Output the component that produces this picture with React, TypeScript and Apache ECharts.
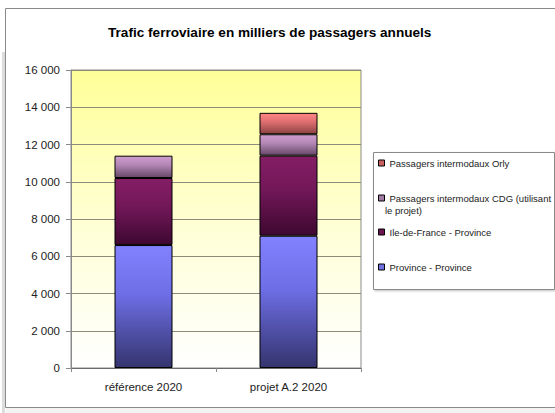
import React, { useEffect, useRef } from "react";
import * as echarts from "echarts";

const titleText = "Trafic ferroviaire en milliers de passagers annuels";
const categories = ["référence 2020", "projet A.2 2020"];
const seriesNames = [
  "Province - Province",
  "Ile-de-France - Province",
  "Passagers intermodaux CDG (utilisant le projet)",
  "Passagers intermodaux Orly",
];
const provinceProvince = [6600, 7100];
const ileDeFranceProvince = [3600, 4300];
const intermodauxCDG = [1200, 1150];
const intermodauxOrly = [null, 1150];
const yMin = 0;
const yMax = 16000;
const yInterval = 2000;

const seriesColors = [
  { top: "#8282FF", mid: "#6E6EE6", bottom: "#34346E", icon: "#7070E0" },
  { top: "#841E64", mid: "#74185A", bottom: "#3E0830", icon: "#6A1450" },
  { top: "#CE9CD0", mid: "#B488B6", bottom: "#664868", icon: "#A07AA2" },
  { top: "#FF8686", mid: "#E07070", bottom: "#8C4242", icon: "#C86060" },
];

const legendTops = [158, 193, 227, 262];
const legendOrder = [3, 2, 1, 0];

function grad(c: { top: string; mid: string; bottom: string }) {
  return new echarts.graphic.LinearGradient(0, 0, 0, 1, [
    { offset: 0, color: c.top },
    { offset: 0.4, color: c.mid },
    { offset: 1, color: c.bottom },
  ]);
}

function fmt(v: number) {
  return String(v).replace(/\B(?=(\d{3})+(?!\d))/g, " ");
}

export default function App() {
  const ref = useRef<HTMLDivElement>(null);
  useEffect(() => {
    if (!ref.current) return;
    const chart = echarts.init(ref.current, null, { renderer: "svg" });
    const dataSets = [provinceProvince, ileDeFranceProvince, intermodauxCDG, intermodauxOrly];
    const font = "Arial, 'Liberation Sans', sans-serif";
    chart.setOption({
      animation: false,
      backgroundColor: "#ffffff",
      title: {
        text: titleText,
        left: 108,
        top: 25,
        padding: 0,
        textStyle: { fontFamily: font, fontSize: 13.6, fontWeight: "bold", color: "#000" },
      },
      graphic: [
        {
          type: "rect",
          z: -10,
          silent: true,
          shape: { x: 5.5, y: 8.5, width: 560, height: 399 },
          style: { fill: "#ffffff", stroke: "#8a8a8a", lineWidth: 1 },
        },
        {
          type: "rect",
          z: -9,
          silent: true,
          shape: { x: 6, y: 408, width: 560, height: 6 },
          style: { fill: "#f3f3f3" },
        },
        {
          type: "rect",
          z: -9,
          silent: true,
          shape: { x: 2, y: 52, width: 3, height: 362 },
          style: { fill: "#dcdcdc" },
        },
        {
          type: "rect",
          z: 1,
          silent: true,
          shape: { x: 373.5, y: 152.5, width: 181, height: 137 },
          style: {
            fill: "#ffffff",
            stroke: "#8a8a8a",
            lineWidth: 1,
            shadowBlur: 2,
            shadowOffsetX: 1,
            shadowOffsetY: 1,
            shadowColor: "rgba(0,0,0,0.25)",
          },
        },
        {
          type: "text",
          z: 5,
          silent: true,
          x: 385,
          y: 205,
          style: { text: "le projet)", fontFamily: font, fontSize: 9.5, fill: "#222" },
        },
      ],
      legend: legendOrder.map((si, k) => ({
        orient: "vertical",
        left: 378,
        top: legendTops[k],
        padding: 0,
        itemGap: 0,
        itemWidth: 6,
        itemHeight: 6,
        icon: "rect",
        selectedMode: false,
        z: 6,
        data: [
          {
            name: seriesNames[si],
            itemStyle: { color: seriesColors[si].icon, borderColor: "#000", borderWidth: 1 },
          },
        ],
        formatter: (name: string) =>
          name === seriesNames[2] ? "Passagers intermodaux CDG (utilisant" : name,
        textStyle: { fontFamily: font, fontSize: 9.5, color: "#222" },
      })),
      grid: {
        left: 71,
        right: 194,
        top: 70,
        bottom: 45,
        show: true,
        borderColor: "#8a8a8a",
        borderWidth: 1,
        backgroundColor: new echarts.graphic.LinearGradient(0, 0, 0, 1, [
          { offset: 0, color: "#FFFF99" },
          { offset: 0.55, color: "#FFFFD8" },
          { offset: 1, color: "#FFFFFF" },
        ]),
      },
      xAxis: {
        type: "category",
        data: categories,
        axisLine: { lineStyle: { color: "#6a6a6a", width: 1 } },
        axisTick: { show: true, length: 4, lineStyle: { color: "#8a8a8a" } },
        axisLabel: { fontFamily: font, fontSize: 11.5, color: "#222", margin: 13 },
      },
      yAxis: {
        type: "value",
        min: yMin,
        max: yMax,
        interval: yInterval,
        axisLine: { show: true, lineStyle: { color: "#8a8a8a" } },
        axisTick: { show: true, length: 5, lineStyle: { color: "#8a8a8a" } },
        splitLine: { show: true, lineStyle: { color: "#8c8c78", width: 1 } },
        axisLabel: {
          fontFamily: font,
          fontSize: 11.5,
          color: "#222",
          margin: 11,
          formatter: (v: number) => fmt(v),
        },
      },
      series: dataSets.map((d, i) => ({
        type: "bar",
        name: seriesNames[i],
        stack: "total",
        barWidth: 58,
        data: d,
        itemStyle: { color: grad(seriesColors[i]), borderColor: "#000", borderWidth: 1 },
      })),
    });
    return () => chart.dispose();
  }, []);
  return (
    <div
      ref={ref}
      style={{ position: "absolute", left: 0, top: 0, width: 555, height: 413 }}
    />
  );
}
